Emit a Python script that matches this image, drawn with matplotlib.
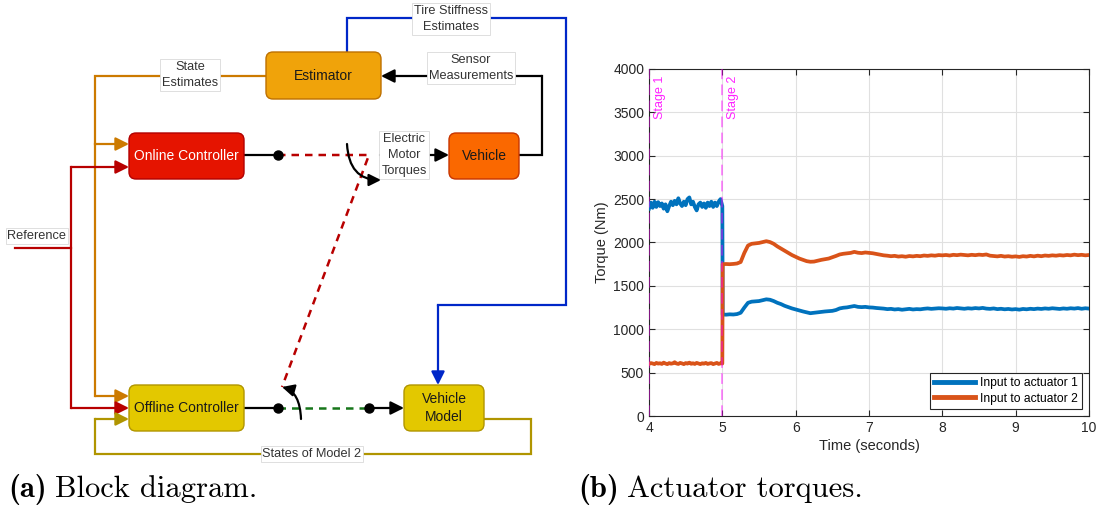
import numpy as np
import matplotlib
matplotlib.use("Agg")
import matplotlib.pyplot as plt
from matplotlib.patches import FancyBboxPatch, FancyArrowPatch
from matplotlib.path import Path

plt.rcParams["font.family"] = "Liberation Sans"

# ---- torque data ----
time_stage1 = np.arange(4.0, 5.0001, 0.025)
time_stage2 = np.concatenate([[5.005], np.arange(5.05, 10.0001, 0.05)])
time = np.concatenate([time_stage1, time_stage2])

actuator1_stage1 = [
    2390, 2460, 2400, 2470, 2410, 2465, 2420, 2450, 2390, 2440,
    2360, 2420, 2470, 2430, 2480, 2440, 2510, 2450, 2420, 2470,
    2430, 2500, 2520, 2440, 2470, 2410, 2370, 2440, 2460, 2410,
    2450, 2400, 2460, 2420, 2470, 2410, 2460, 2420, 2470, 2500,
    2420,
]
actuator1_stage2 = [
    1170,
    1168, 1172, 1170, 1175, 1190, 1250, 1305, 1318, 1322, 1325,
    1335, 1345, 1340, 1325, 1305, 1290, 1270, 1255, 1240, 1228,
    1215, 1205, 1195, 1185, 1190, 1195, 1200, 1205, 1208, 1212,
    1222, 1240, 1248, 1252, 1260, 1268, 1258, 1255, 1258, 1252,
    1250, 1245, 1242, 1238, 1232, 1235, 1228, 1232, 1225, 1230,
    1235, 1228, 1232, 1230, 1236, 1240, 1235, 1238, 1242, 1240,
    1236, 1242, 1238, 1245, 1240, 1236, 1242, 1238, 1244, 1240,
    1246, 1238, 1235, 1240, 1232, 1236, 1230, 1234, 1228, 1232,
    1226, 1234, 1230, 1236, 1232, 1238, 1234, 1240, 1236, 1242,
    1238, 1234, 1240, 1236, 1242, 1238, 1244, 1236, 1242, 1238,
]
actuator2_stage1 = [
    600, 610, 605, 598, 612, 604, 608, 600, 615, 605,
    598, 610, 603, 607, 620, 605, 600, 612, 606, 598,
    610, 604, 615, 602, 608, 600, 612, 605, 598, 608,
    603, 612, 600, 606, 610, 598, 605, 612, 600, 608,
    605,
]
actuator2_stage2 = [
    1750,
    1752, 1750, 1753, 1758, 1775, 1880, 1965, 1985, 1990, 1995,
    2005, 2015, 2005, 1985, 1955, 1930, 1905, 1880, 1855, 1835,
    1815, 1800, 1785, 1778, 1780, 1790, 1800, 1808, 1815, 1830,
    1845, 1862, 1870, 1875, 1880, 1892, 1882, 1878, 1885, 1880,
    1876, 1868, 1860, 1852, 1848, 1842, 1846, 1838, 1842, 1836,
    1844, 1840, 1846, 1842, 1850, 1846, 1852, 1848, 1855, 1852,
    1856, 1850, 1858, 1854, 1860, 1856, 1852, 1858, 1854, 1860,
    1856, 1862, 1848, 1844, 1840, 1846, 1838, 1842, 1836, 1840,
    1834, 1842, 1838, 1846, 1840, 1848, 1842, 1850, 1846, 1852,
    1848, 1854, 1850, 1856, 1852, 1860, 1854, 1858, 1852, 1856,
]
actuator1 = np.array(actuator1_stage1 + actuator1_stage2)
actuator2 = np.array(actuator2_stage1 + actuator2_stage2)

series_labels = ["Input to actuator 1", "Input to actuator 2"]
stage_times = [4, 5]
stage_labels = ["Stage 1", "Stage 2"]
x_ticks = [4, 5, 6, 7, 8, 9, 10]
y_ticks = [0, 500, 1000, 1500, 2000, 2500, 3000, 3500, 4000]

W, H = 1100, 511
fig = plt.figure(figsize=(W / 100, H / 100), dpi=100)

# background axes in pixel units for the block diagram and captions
bg = fig.add_axes([0, 0, 1, 1])
bg.set_xlim(0, W)
bg.set_ylim(H, 0)
bg.axis("off")

BOX_FS = 10
LBL_FS = 9.2


def block(x0, y0, x1, y1, fc, ec, text, tc="#1a1a1a"):
    bg.add_patch(FancyBboxPatch((x0, y0), x1 - x0, y1 - y0,
                                boxstyle="round,pad=0,rounding_size=7",
                                fc=fc, ec=ec, lw=1.0, zorder=4))
    bg.text((x0 + x1) / 2, (y0 + y1) / 2, text, ha="center", va="center",
            color=tc, fontsize=BOX_FS, linespacing=1.45, zorder=5)


def wire(xs, ys, color, lw=1.6, arrow=True, ls="-"):
    if arrow:
        bg.plot(xs[:-1], ys[:-1], color=color, lw=lw, ls=ls, zorder=2,
                solid_joinstyle="miter")
        bg.add_patch(FancyArrowPatch((xs[-2], ys[-2]), (xs[-1], ys[-1]),
                                     arrowstyle="-|>", mutation_scale=20,
                                     color=color, lw=lw, shrinkA=0, shrinkB=0,
                                     zorder=3))
    else:
        bg.plot(xs, ys, color=color, lw=lw, ls=ls, zorder=2,
                solid_joinstyle="miter")


def label(x, y, text):
    bg.text(x, y, text, ha="center", va="center", fontsize=LBL_FS,
            color="#333333", linespacing=1.4, zorder=6,
            bbox=dict(boxstyle="square,pad=0.15", fc="white", ec="#d9d9d9",
                      lw=0.6))


ORANGE = "#CC7A00"
RED = "#B80000"
OLIVE = "#B09500"
BLUE = "#0027C8"
GREEN = "#17761A"

# state estimates feed
wire([266, 95, 95, 129], [76, 76, 144, 144], ORANGE)
wire([95, 95, 129], [144, 396, 396], ORANGE)
label(190, 75, "State\nEstimates")

# reference
wire([15, 71, 71, 129], [248, 248, 167, 167], RED)
wire([71, 71, 129], [248, 408, 408], RED)
label(37, 236, "Reference")

# model states feedback
wire([484, 531, 531, 95, 95, 129], [419, 419, 454, 454, 419, 419], OLIVE)
label(312, 454, "States of Model 2")

# tire stiffness estimates
wire([347, 347, 566, 566, 438, 438], [52, 18, 18, 305, 305, 385], BLUE)
label(451, 19, "Tire Stiffness\nEstimates")

# sensor measurements
wire([519, 542, 542, 381], [155, 155, 76, 76], "black")
label(471, 68, "Sensor\nMeasurements")

# controller outputs and switches
wire([244, 278], [155, 155], "black", arrow=False)
wire([278, 369, 282], [155, 155, 387], RED, lw=1.8, arrow=False,
     ls=(0, (3, 2.4)))
wire([380, 449], [155, 155], "black")
label(404, 155, "Electric\nMotor\nTorques")

wire([244, 278], [408, 408], "black", arrow=False)
wire([278, 369], [408, 408], GREEN, lw=1.8, arrow=False, ls=(0, (3, 2.4)))
wire([369, 404], [408, 408], "black")
bg.plot([278, 278, 369], [155, 408, 408], "o", color="black", ms=6.5,
        zorder=7)

# switch arrows
bg.add_patch(FancyArrowPatch(path=Path([(347, 144), (349, 180), (381, 180)],
                                       [Path.MOVETO, Path.CURVE3, Path.CURVE3]),
                             arrowstyle="-|>", mutation_scale=18,
                             color="black", lw=1.6, zorder=6))
bg.add_patch(FancyArrowPatch(path=Path([(301, 419), (300, 392), (282, 387)],
                                       [Path.MOVETO, Path.CURVE3, Path.CURVE3]),
                             arrowstyle="-|>", mutation_scale=18,
                             color="black", lw=1.6, zorder=6))

block(266, 52, 381, 99, "#F0A30A", "#BD7000", "Estimator")
block(129, 133, 244, 179, "#E51400", "#B20000", "Online Controller", "white")
block(449, 133, 519, 179, "#FA6800", "#C73500", "Vehicle")
block(129, 385, 244, 431, "#E3C800", "#B09500", "Offline Controller")
block(404, 385, 484, 431, "#E3C800", "#B09500", "Vehicle\nModel")

# captions: bold tag followed by roman text
CAP_FS = 22
renderer = fig.canvas.get_renderer()
for x0, tag, caption in [(8, "(a)", "Block diagram."),
                         (578, "(b)", "Actuator torques.")]:
    t = bg.text(x0, 497, tag, fontfamily="cmb10", fontsize=CAP_FS,
                va="baseline", ha="left")
    x1 = x0 + t.get_window_extent(renderer).width
    bg.text(x1 + 8, 497, caption, fontfamily="cmr10", fontsize=CAP_FS,
            va="baseline", ha="left")

# ---- torque chart ----
TXT = "#262626"
ax = fig.add_axes([649 / W, (H - 416) / H, 440 / W, 347 / H])
ax.plot(time, actuator1, color="#0072BD", lw=2.7, label=series_labels[0],
        zorder=3)
ax.plot(time, actuator2, color="#D95319", lw=2.7, label=series_labels[1],
        zorder=3)

for t, s in zip(stage_times, stage_labels):
    ax.axvline(t, color="#FF00FF", alpha=0.55, lw=1.1, ls=(0, (7, 3.5)),
               zorder=4)
    ax.annotate(s, xy=(t, 4000), xytext=(3.5, -5), textcoords="offset points",
                rotation=90, ha="left", va="top", color="#FF22FF", fontsize=9)

ax.set_xlim(4, 10)
ax.set_ylim(0, 4000)
ax.set_xticks(x_ticks)
ax.set_yticks(y_ticks)
ax.grid(True, color="#e0e0e0", lw=0.8, zorder=0)
ax.set_axisbelow(True)
ax.tick_params(direction="in", top=True, right=True, length=4, width=0.8,
               colors=TXT, labelsize=10, labelcolor=TXT)
for sp in ax.spines.values():
    sp.set_color(TXT)
    sp.set_linewidth(0.8)
ax.set_xlabel("Time (seconds)", fontsize=10.5, color=TXT, labelpad=3)
ax.set_ylabel("Torque (Nm)", fontsize=10.5, color=TXT, labelpad=3)

leg = ax.legend(loc="lower right", fontsize=8.7, handlelength=3.4,
                handletextpad=0.4, borderaxespad=0.6, fancybox=False,
                framealpha=1, edgecolor=TXT, borderpad=0.35,
                labelspacing=0.3)
leg.get_frame().set_linewidth(0.8)
for line in leg.get_lines():
    line.set_linewidth(3.5)

fig.savefig("out.png", dpi=100)
